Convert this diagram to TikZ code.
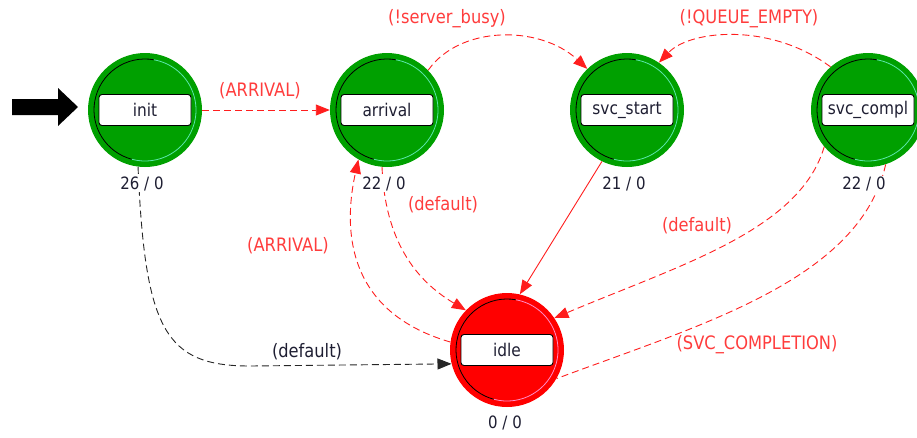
\documentclass[tikz,border=0pt]{standalone}
\usepackage{fontspec}
\setmainfont{DejaVu Sans}[FakeStretch=0.88]
\usetikzlibrary{arrows.meta,calc}
\definecolor{stgreen}{RGB}{0,160,0}
\definecolor{stred}{RGB}{255,0,0}
\definecolor{trred}{RGB}{255,30,30}
\definecolor{lblred}{RGB}{255,60,60}
\definecolor{ringlg}{RGB}{90,230,170}
\definecolor{ringlr}{RGB}{255,140,200}
\definecolor{cnttext}{RGB}{30,30,50}
\tikzset{
  stategreen/.style={circle, minimum size=114pt, inner sep=0pt, fill=stgreen},
  statered/.style={circle, minimum size=114pt, inner sep=0pt, fill=stred},
  statebox/.style={draw=black, line width=0.9pt, fill=white, rounded corners=3pt,
    minimum width=92pt, minimum height=31pt, inner sep=0pt, text=cnttext},
  cnt/.style={fill=white, inner sep=1pt, text=cnttext, font=\fontsize{17}{20}\selectfont},
  tip/.style={-{Triangle[length=14pt,width=11pt]}},
  trdash/.style={trred, line width=0.9pt, dash pattern=on 7pt off 4pt, tip},
  trdashnotip/.style={trred, line width=0.9pt, dash pattern=on 7pt off 4pt},
  trsolid/.style={trred, line width=0.9pt, tip},
  trblack/.style={black!85, line width=0.9pt, dash pattern=on 7pt off 4pt, tip},
  tlabel/.style={text=lblred, inner sep=0pt, font=\fontsize{18.5}{21}\selectfont},
  tlabelblack/.style={text=cnttext, inner sep=0pt, font=\fontsize{18.5}{21}\selectfont},
}
\begin{document}
\begin{tikzpicture}[x=1pt, y=-1pt, font=\fontsize{17.5}{20}\selectfont]
\useasboundingbox (0,0) rectangle (917,437);
% states
\node[stategreen] (init) at (145,110) {};
\node[stategreen] (arrival) at (387,110) {};
\node[stategreen] (svcstart) at (627,110) {};
\node[stategreen] (svccompl) at (868,110) {};
\node[statered] (idle) at (507,350) {};
% inner rings
\foreach \n/\c in {init/ringlg, arrival/ringlg, svcstart/ringlg, svccompl/ringlg, idle/ringlr}{
  \draw[black, line width=0.8pt] ($(\n)+(80:51pt)$) arc[start angle=80, end angle=255, radius=51pt];
  \draw[\c, line width=0.8pt] ($(\n)+(255:51pt)$) arc[start angle=255, end angle=440, radius=51pt];
}
% initial arrow
\fill[black] (12,99) -- (58,99) -- (58,88) -- (78,107) -- (58,126) -- (58,115) -- (12,115) -- cycle;
% transitions
\draw[trdash] (init.east) -- (arrival.west);
\draw[trdash] (arrival.44) .. controls (460,25) and (540,25) .. (svcstart.134);
\draw[trdash] (svccompl.131) .. controls (770,22) and (690,30) .. (svcstart.56);
\draw[trsolid] (svcstart.244) -- (idle.77);
\draw[trdash] (svccompl.220) .. controls (800,230) and (680,265) .. (idle.34);
\draw[trdashnotip] (svccompl.288) .. controls (860,280) and (700,325) .. (idle.330);
\draw[trdash] (arrival.265) .. controls (385,240) and (415,280) .. (idle.136);
\draw[trdash] (idle.172) .. controls (340,310) and (345,220) .. (arrival.240);
\draw[trblack] (init.263) .. controls (145,330) and (165,366) .. (250,366) -- (idle.194);
% name boxes
\node[statebox] (initbox) at (init) {init};
\node[statebox] (arrivalbox) at (arrival) {arrival};
\node[statebox] (svcstartbox) at (svcstart) {svc\_start};
\node[statebox] (svccomplbox) at (svccompl) {svc\_compl};
\node[statebox] (idlebox) at (idle) {idle};
% counts
\node[cnt] (c1) at (142,184) {26 / 0};
\node[cnt] (c2) at (384,184) {22 / 0};
\node[cnt] (c3) at (624,184) {21 / 0};
\node[cnt] (c4) at (864,184) {22 / 0};
\node[cnt] (c5) at (505,423) {0 / 0};
% transition labels
\node[tlabel] (l1) at (260,91) {(ARRIVAL)};
\node[tlabel] (l2) at (447,19) {(!server\_busy)};
\node[tlabel] (l3) at (749,19) {(!QUEUE\_EMPTY)};
\node[tlabel] (l4) at (443,205) {(default)};
\node[tlabel] (l5) at (288,246) {(ARRIVAL)};
\node[tlabelblack] (l6) at (307,352) {(default)};
\node[tlabel] (l7) at (697,226) {(default)};
\node[tlabel] (l8) at (757,345) {(SVC\_COMPLETION)};
\end{tikzpicture}
\end{document}
